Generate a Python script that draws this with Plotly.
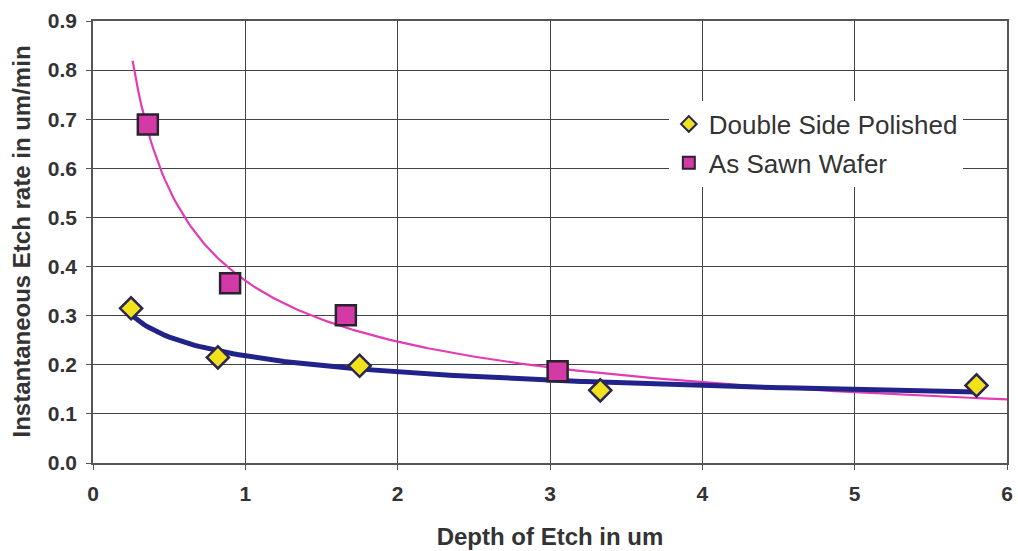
import numpy as np
import plotly.graph_objects as go

# Data
dsp_x = [0.25, 0.82, 1.75, 3.33, 5.80]
dsp_y = [0.315, 0.215, 0.198, 0.148, 0.158]
saw_x = [0.36, 0.90, 1.66, 3.05]
saw_y = [0.689, 0.366, 0.301, 0.187]

x_ticks = [0, 1, 2, 3, 4, 5, 6]
y_ticks = [0.0, 0.1, 0.2, 0.3, 0.4, 0.5, 0.6, 0.7, 0.8, 0.9]

# Power-law trendlines (as in the spreadsheet): fitted from the data
def power_fit(x, y):
    b, lna = np.polyfit(np.log(x), np.log(y), 1)
    return np.exp(lna), b

a1, b1 = power_fit(dsp_x, dsp_y)
a2, b2 = power_fit(saw_x, saw_y)
xs1 = np.linspace(min(dsp_x), max(dsp_x), 200)
xs2 = np.linspace(0.26, 6.0, 300)

FONT = "Liberation Sans, Arial"

fig = go.Figure()
fig.add_trace(go.Scatter(x=xs2, y=a2 * xs2 ** b2, mode="lines",
                         line=dict(color="#e23cb4", width=2.2), showlegend=False, hoverinfo="skip"))
fig.add_trace(go.Scatter(x=xs1, y=a1 * xs1 ** b1, mode="lines",
                         line=dict(color="#22238a", width=5), showlegend=False, hoverinfo="skip"))
fig.add_trace(go.Scatter(x=dsp_x, y=dsp_y, mode="markers", name="Double Side Polished",
                         legendgroup="a",
                         marker=dict(symbol="diamond", size=17, color="#f2e21e",
                                     line=dict(color="#2a2550", width=2.5))))
fig.add_trace(go.Scatter(x=saw_x, y=saw_y, mode="markers", name="As Sawn Wafer",
                         legendgroup="b",
                         marker=dict(symbol="square", size=20, color="#d43aa6",
                                     line=dict(color="#2a2230", width=2.5))))

tick_font = dict(family=FONT, size=21, color="#333333", weight="bold")
axis_common = dict(showgrid=True, gridcolor="#444444", gridwidth=1, zeroline=False,
                   showline=True, linecolor="#555555", linewidth=1.5,
                   ticks="outside", ticklen=5, tickcolor="#555555",
                   mirror=True)

fig.update_xaxes(range=[0, 6], tickvals=x_ticks, ticktext=[str(v) for v in x_ticks],
                 tickfont=tick_font, ticklabelstandoff=6,
                 title=dict(text="<b>Depth of Etch in um</b>", standoff=24,
                            font=dict(family=FONT, size=24, color="#333333")),
                 **axis_common)
fig.update_yaxes(range=[0, 0.9], tickvals=y_ticks, ticktext=[f"{v:.1f}" for v in y_ticks],
                 tickfont=tick_font, ticklabelstandoff=5,
                 **axis_common)

fig.add_annotation(text="<b>Instantaneous Etch rate in um/min</b>", textangle=-90,
                   xref="paper", yref="paper", x=-0.0793, y=0.5,
                   xanchor="center", yanchor="middle", showarrow=False,
                   font=dict(family=FONT, size=24, color="#333333"))

fig.update_layout(
    width=1018, height=551,
    margin=dict(l=93, r=5, t=21, b=87),
    plot_bgcolor="white", paper_bgcolor="white",
    legend=dict(x=0.63, y=0.82, xanchor="left", yanchor="top",
                bgcolor="rgba(255,255,255,1)", borderwidth=0,
                font=dict(family=FONT, size=26, color="#333333"),
                itemsizing="constant", tracegroupgap=2),
    showlegend=True,
)

fig.write_html("out.html")
